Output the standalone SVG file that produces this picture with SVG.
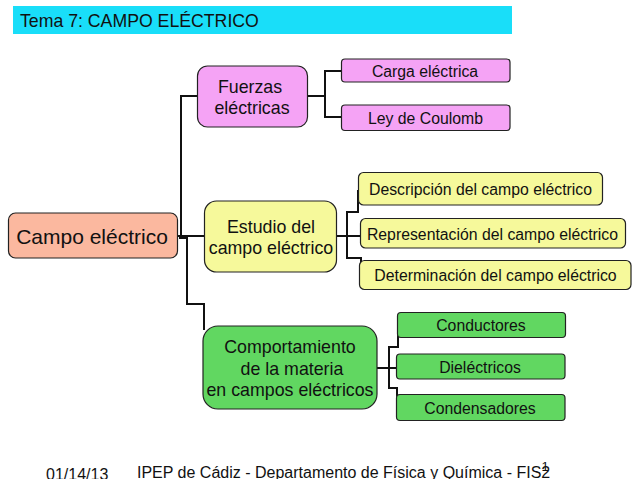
<svg xmlns="http://www.w3.org/2000/svg" width="638" height="479" viewBox="0 0 638 479">
<style>
text{font-family:"Liberation Sans",Arial,sans-serif;fill:#111;text-anchor:middle}
.n{stroke:#222;stroke-width:1.2}
.p{fill:#f5a3f5}.y{fill:#f6f99b}.g{fill:#61d761}
.c path{fill:none;stroke:#111;stroke-width:2}
.t1{font-size:21px}.t2{font-size:17.8px}.t3{font-size:15.8px}
</style>
<rect width="638" height="479" fill="#fff"/>
<g id="title"><rect x="13" y="6" width="499" height="28" fill="#19def9"/><text x="20" y="27" font-size="17.7" style="text-anchor:start">Tema 7: CAMPO ELÉCTRICO</text></g>
<g id="connectors" class="c">
<path d="M177 236H181V96H197.500M177 236H204.500M179 238H187V304H204V330"/>
<path d="M307 96H325M341.500 71H325V117H341.500"/>
<path d="M336 236H360M358 190V212H347V258H361V262"/>
<path d="M377 368H397M398 326V347H389V388H397V407"/>
</g>
<g id="campo"><rect class="n" x="8.500" y="213" width="169" height="45" rx="7" fill="#fbb89f"/><text class="t1" x="92" y="244">Campo eléctrico</text></g>
<g id="fuerzas"><rect class="n p" x="197.500" y="66" width="110" height="61" rx="10"/><text class="t2" x="250" y="93">Fuerzas</text><text class="t2" x="252" y="114">eléctricas</text></g>
<g id="estudio"><rect class="n y" x="204.500" y="201" width="132" height="71" rx="12"/><text class="t2" x="271" y="233">Estudio del</text><text class="t2" x="271" y="254">campo eléctrico</text></g>
<g id="comportamiento"><rect class="n g" x="203" y="326" width="174" height="83" rx="15"/><text class="t2" x="290" y="353">Comportamiento</text><text class="t2" x="292" y="375">de la materia</text><text class="t2" x="290" y="396">en campos eléctricos</text></g>
<g id="carga"><rect class="n p" x="341.500" y="59" width="168.500" height="23" rx="3.500"/><text class="t3" x="425" y="77">Carga eléctrica</text></g>
<g id="ley"><rect class="n p" x="341.500" y="105" width="168.500" height="25.500" rx="3.500"/><text class="t3" x="425.500" y="124">Ley de Coulomb</text></g>
<g id="descripcion"><rect class="n y" x="358.500" y="172.500" width="244" height="32.500" rx="5"/><text class="t3" x="480.500" y="195">Descripción del campo eléctrico</text></g>
<g id="representacion"><rect class="n y" x="360.500" y="218.500" width="265" height="29.500" rx="5"/><text class="t3" x="492.500" y="240">Representación del campo eléctrico</text></g>
<g id="determinacion"><rect class="n y" x="359.500" y="260.500" width="271.500" height="29" rx="5"/><text class="t3" x="495.500" y="281">Determinación del campo eléctrico</text></g>
<g id="conductores"><rect class="n g" x="397.500" y="312.500" width="168" height="25" rx="3.500"/><text class="t3" x="481" y="331">Conductores</text></g>
<g id="dielectricos"><rect class="n g" x="396.500" y="354" width="168.500" height="25" rx="3.500"/><text class="t3" x="480" y="373">Dieléctricos</text></g>
<g id="condensadores"><rect class="n g" x="396.500" y="394.500" width="168.500" height="26" rx="3.500"/><text class="t3" x="480" y="414">Condensadores</text></g>
<g id="footer"><text x="46" y="480" font-size="16" style="text-anchor:start">01/14/13</text><text x="137" y="478" font-size="16" style="text-anchor:start">IPEP de Cádiz - Departamento de Física y Química  - FIS2</text><text x="545" y="471" font-size="13">1</text></g>
</svg>
